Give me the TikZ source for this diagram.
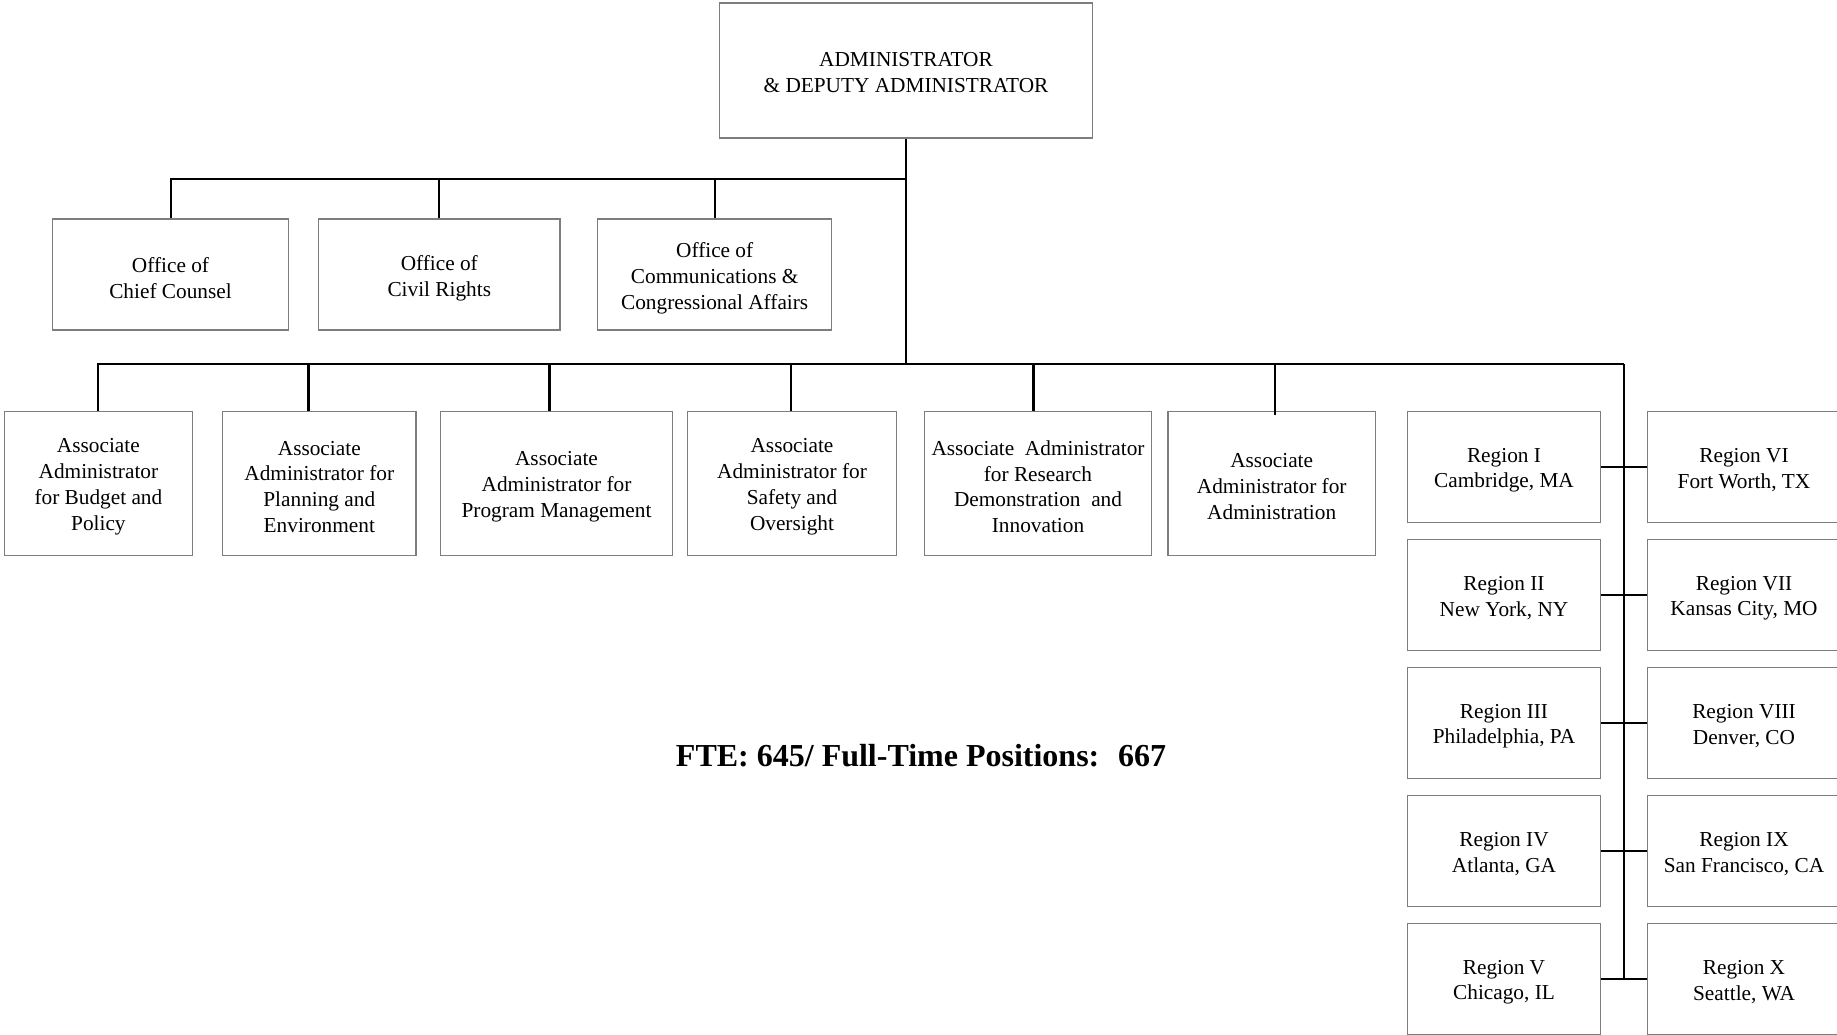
\documentclass[tikz,border=0pt]{standalone}
\usepackage{fontspec}
\setmainfont{Liberation Serif}
\begin{document}
\begin{tikzpicture}[x=0.5pt,y=-0.5pt,
  lab/.style={align=center, inner sep=0pt, yshift=-1.75pt, font=\fontsize{10.65}{12.9}\selectfont},
  box/.style={draw={rgb,255:red,125;green,125;blue,125}, line width=0.55pt, inner sep=0pt},
  offbox/.style={box, minimum height=55.5pt},
  asbox/.style={box, minimum height=72pt},
  regbox/.style={box, minimum height=55.75pt, minimum width=96.25pt},
  conn/.style={line width=1pt, black},
  thick conn/.style={line width=1.5pt, black}]
\useasboundingbox (0,0) rectangle (1837,1034);
% top
\node[box, minimum width=186.5pt, minimum height=67.5pt,
  label={[lab, yshift=0.6pt]center:{ADMINISTRATOR\\ \& DEPUTY ADMINISTRATOR}}] (top) at (906,70.5) {};
% offices
\node[offbox, minimum width=117.75pt, label={[lab]center:{Office of\\Chief Counsel}}] (chief) at (170.5,274.5) {};
\node[offbox, minimum width=120.65pt, label={[lab]center:{Office of\\Civil Rights}}] (civil) at (439.3,274.5) {};
\node[offbox, minimum width=117.15pt, label={[lab]center:{Office of\\Communications \&\\Congressional Affairs}}] (comms) at (714.7,274.5) {};
% associates
\node[asbox, minimum width=93.7pt, label={[lab]center:{Associate\\Administrator\\for Budget and\\Policy}}] (bud) at (98.4,483.3) {};
\node[asbox, minimum width=96.65pt, label={[lab]center:{Associate\\Administrator for\\Planning and\\Environment}}] (plan) at (319.3,483.3) {};
\node[asbox, minimum width=116pt, label={[lab]center:{Associate\\Administrator for\\Program Management}}] (prog) at (556.5,483.3) {};
\node[asbox, minimum width=104.25pt, label={[lab]center:{Associate\\Administrator for\\Safety and\\Oversight}}] (safe) at (792,483.3) {};
\node[asbox, minimum width=113.65pt, label={[lab]center:{Associate\ \ Administrator\\for Research\\Demonstration\ \ and\\Innovation}}] (res) at (1038,483.3) {};
\node[asbox, minimum width=103.7pt, label={[lab]center:{Associate\\Administrator for\\Administration}}] (adm) at (1271.7,483.3) {};
% regions
\node[regbox, label={[lab]center:{Region I\\Cambridge, MA}}] (r1) at (1504,466.8) {};
\node[regbox, label={[lab]center:{Region II\\New York, NY}}] (r2) at (1504,594.8) {};
\node[regbox, label={[lab]center:{Region III\\Philadelphia, PA}}] (r3) at (1504,722.8) {};
\node[regbox, label={[lab]center:{Region IV\\Atlanta, GA}}] (r4) at (1504,850.8) {};
\node[regbox, label={[lab]center:{Region V\\Chicago, IL}}] (r5) at (1504,978.8) {};
\node[regbox, label={[lab]center:{Region VI\\Fort Worth, TX}}] (r6) at (1744,466.8) {};
\node[regbox, label={[lab]center:{Region VII\\Kansas City, MO}}] (r7) at (1744,594.8) {};
\node[regbox, label={[lab]center:{Region VIII\\Denver, CO}}] (r8) at (1744,722.8) {};
\node[regbox, label={[lab]center:{Region IX\\San Francisco, CA}}] (r9) at (1744,850.8) {};
\node[regbox, label={[lab]center:{Region X\\Seattle, WA}}] (r10) at (1744,978.8) {};
% FTE
\node[font=\fontsize{16}{19}\selectfont\bfseries, inner sep=0pt] (fte) at (921,755.7) {FTE: 645/ Full-Time Positions:~ 667};
% connectors
\coordinate (l1) at (0,179);
\coordinate (l2) at (0,364.4);
\coordinate (trunk) at (1624,364.4);
\draw[conn] (top.south) -- (top.south |- l2);
\draw[conn] (chief.north) |- (top.south |- l1);
\draw[conn] (civil.north) -- (civil.north |- l1);
\draw[conn] (comms.north) -- (comms.north |- l1);
\draw[conn] (bud.north) |- (trunk);
\draw[thick conn] ([xshift=-5.65pt]plan.north) -- ([xshift=-5.65pt]plan.north |- l2);
\draw[thick conn] ([xshift=-3.5pt]prog.north) -- ([xshift=-3.5pt]prog.north |- l2);
\draw[conn] ([xshift=-0.6pt]safe.north) -- ([xshift=-0.6pt]safe.north |- l2);
\draw[thick conn] ([xshift=-2.35pt]res.north) -- ([xshift=-2.35pt]res.north |- l2);
\draw[conn] ([xshift=1.5pt,yshift=-2pt]adm.north) -- ([xshift=1.5pt]adm.north |- l2);
\draw[conn] (trunk) -- (trunk |- r5.east);
\draw[conn] (r1.east) -- (r6.west);
\draw[conn] (r2.east) -- (r7.west);
\draw[conn] (r3.east) -- (r8.west);
\draw[conn] (r4.east) -- (r9.west);
\draw[conn] (r5.east) -- (r10.west);
\end{tikzpicture}
\end{document}
